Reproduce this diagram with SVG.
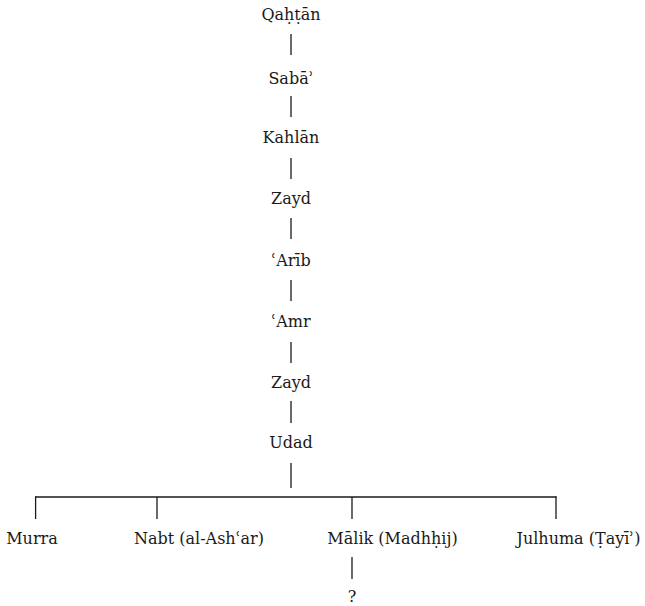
<svg xmlns="http://www.w3.org/2000/svg" width="645" height="606" viewBox="0 0 645 606">
<style>
text{font-family:"DejaVu Serif","Liberation Serif",serif;font-size:16px;fill:#1a1a1a;text-anchor:middle}
.c line{stroke:#1a1a1a;stroke-width:1.3;fill:none}
</style>
<rect width="645" height="606" fill="#fff"/>
<g class="c" id="connectors">
<line x1="291" y1="34" x2="291" y2="55"/>
<line x1="291" y1="96" x2="291" y2="117"/>
<line x1="291" y1="158" x2="291" y2="179"/>
<line x1="291" y1="218" x2="291" y2="239"/>
<line x1="291" y1="280" x2="291" y2="301"/>
<line x1="291" y1="342" x2="291" y2="363"/>
<line x1="291" y1="401" x2="291" y2="423"/>
<line x1="291" y1="463" x2="291" y2="488"/>
<line x1="35" y1="497" x2="556.6" y2="497"/>
<line x1="35.6" y1="496.4" x2="35.6" y2="519"/>
<line x1="157" y1="497" x2="157" y2="519"/>
<line x1="352" y1="497" x2="352" y2="519"/>
<line x1="556" y1="496.4" x2="556" y2="519"/>
<line x1="352" y1="557" x2="352" y2="579"/>
</g>
<g id="n-qahtan"><text x="291" y="20">Qaḥṭān</text></g>
<g id="n-saba"><text x="291" y="84">Sabāʾ</text></g>
<g id="n-kahlan"><text x="291" y="143">Kahlān</text></g>
<g id="n-zayd1"><text x="291" y="204">Zayd</text></g>
<g id="n-arib"><text x="291" y="266">ʿArīb</text></g>
<g id="n-amr"><text x="291" y="327">ʿAmr</text></g>
<g id="n-zayd2"><text x="291" y="388">Zayd</text></g>
<g id="n-udad"><text x="291" y="448">Udad</text></g>
<g id="n-murra"><text x="32" y="544">Murra</text></g>
<g id="n-nabt"><text x="199" y="544">Nabt (al-Ashʿar)</text></g>
<g id="n-malik"><text x="392.5" y="544">Mālik (Madhḥij)</text></g>
<g id="n-julhuma"><text x="578.5" y="544">Julhuma (Ṭayīʾ)</text></g>
<g id="n-q"><text x="352" y="602">?</text></g>
</svg>
